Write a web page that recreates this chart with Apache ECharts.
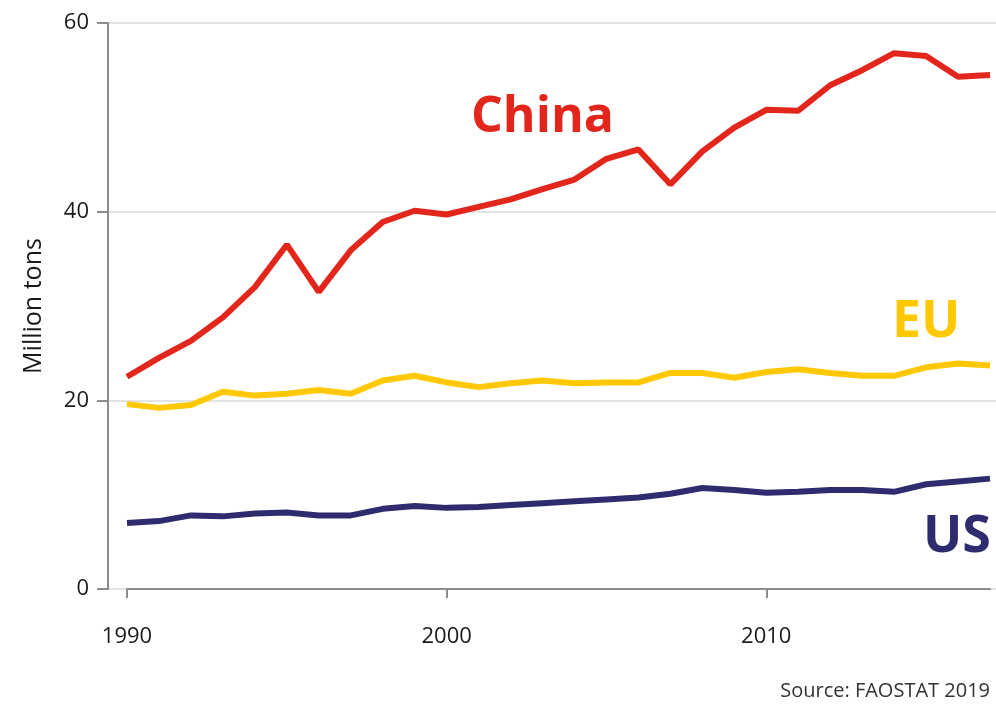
<!DOCTYPE html>
<html>
<head>
<meta charset="utf-8">
<script src="https://cdn.jsdelivr.net/npm/echarts@6/dist/echarts.min.js"></script>
<style>
html,body{margin:0;padding:0;background:#fff;}
#chart{width:996px;height:706px;}
</style>
</head>
<body>
<div id="chart"></div>
<script>
const years = [1990,1991,1992,1993,1994,1995,1996,1997,1998,1999,2000,2001,2002,2003,2004,2005,2006,2007,2008,2009,2010,2011,2012,2013,2014,2015,2016,2017];
const china = [22.5,24.5,26.3,28.8,32.0,36.5,31.5,35.9,38.9,40.1,39.7,40.5,41.3,42.4,43.4,45.6,46.6,42.9,46.4,48.9,50.8,50.7,53.4,55.0,56.8,56.5,54.3,54.5];
const eu = [19.6,19.2,19.5,20.9,20.5,20.7,21.1,20.7,22.1,22.6,21.9,21.4,21.8,22.1,21.8,21.9,21.9,22.9,22.9,22.4,23.0,23.3,22.9,22.6,22.6,23.5,23.9,23.7];
const us = [7.0,7.2,7.8,7.7,8.0,8.1,7.8,7.8,8.5,8.8,8.6,8.7,8.9,9.1,9.3,9.5,9.7,10.1,10.7,10.5,10.2,10.3,10.5,10.5,10.3,11.1,11.4,11.7];
const yTicks = [0,20,40,60];

const chart = echarts.init(document.getElementById('chart'));
const font = '"Open Sans", "Noto Sans", sans-serif';
const grids = {top:23, bottom:117};
chart.setOption({
  backgroundColor:'#fff',
  animation:false,
  grid:[
    {left:108, right:0, top:grids.top, bottom:grids.bottom},
    {left:127, right:6, top:grids.top, bottom:grids.bottom}
  ],
  xAxis:[
    {gridIndex:0, type:'value', min:0, max:1, show:false},
    {gridIndex:1, type:'category', data:years.map(String), boundaryGap:false, offset:18,
     axisLine:{lineStyle:{color:'#8c8c8c', width:2}},
     axisTick:{length:9, lineStyle:{color:'#8c8c8c', width:2}, interval:(i,v)=>Number(v)%10===0},
     axisLabel:{interval:(i,v)=>Number(v)%10===0, color:'#1a1a1a', fontSize:22, fontFamily:font, margin:19},
     splitLine:{show:false}}
  ],
  yAxis:[
    {gridIndex:0, type:'value', min:yTicks[0], max:yTicks[yTicks.length-1], interval:20,
     name:'Million tons', nameLocation:'middle', nameRotate:90, nameGap:62,
     nameTextStyle:{color:'#1a1a1a', fontSize:25, fontFamily:font},
     axisLine:{show:true, lineStyle:{color:'#8c8c8c', width:2}},
     axisTick:{show:true, length:11, lineStyle:{color:'#8c8c8c', width:2}},
     axisLabel:{color:'#1a1a1a', fontSize:22, fontFamily:font, margin:19},
     splitLine:{show:true, lineStyle:{color:'#e3e3e3', width:2}}},
    {gridIndex:1, type:'value', min:0, max:60, show:false, splitLine:{show:false}}
  ],
  series:[
    {name:'China', type:'line', xAxisIndex:1, yAxisIndex:1, data:china, symbol:'none',
     lineStyle:{color:'#e3261b', width:6}},
    {name:'EU', type:'line', xAxisIndex:1, yAxisIndex:1, data:eu, symbol:'none',
     lineStyle:{color:'#ffc800', width:6}},
    {name:'US', type:'line', xAxisIndex:1, yAxisIndex:1, data:us, symbol:'none',
     lineStyle:{color:'#2e2c6e', width:6}}
  ],
  graphic:[
    {type:'text', left:471, top:93, style:{text:'China', fill:'#e3261b', font:'bold 50px "Open Sans", sans-serif'}},
    {type:'text', left:892, top:296, style:{text:'EU', fill:'#ffc800', font:'bold 52px "Open Sans", sans-serif'}},
    {type:'text', left:923, top:511, style:{text:'US', fill:'#2e2c6e', font:'bold 52px "Open Sans", sans-serif'}},
    {type:'text', right:6, top:681, style:{text:'Source: FAOSTAT 2019', fill:'#333', font:'20px "Open Sans", sans-serif'}}
  ]
});
</script>
</body>
</html>
